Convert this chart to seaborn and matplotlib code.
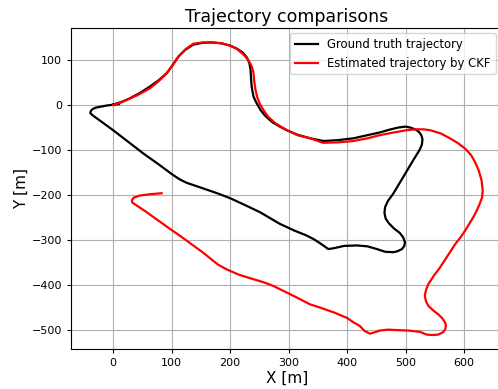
import matplotlib
matplotlib.use("Agg")
import matplotlib.pyplot as plt
import seaborn as sns

# Ground truth trajectory points (x [m], y [m])
gt_points = [
    (0, 1), (15, 7), (29, 15), (45, 26), (63, 41), (78, 55), (92, 71), (102, 89), (112, 108), (124, 123),
    (137, 134), (153, 138), (169, 139), (185, 137), (200, 132), (212, 125), (222, 116), (229, 105), (233, 93),
    (235, 78), (236, 56), (237, 40), (240, 19), (245, 5), (252, -11), (260, -24), (272, -38), (285, -48),
    (297, -56), (315, -66), (337, -74), (360, -80), (385, -78), (411, -74), (435, -67), (456, -61), (472, -55),
    (488, -50), (500, -48), (508, -50), (518, -55), (523, -60), (527, -67), (529, -76), (528, -88), (524, -100),
    (513, -123), (497, -158), (479, -197), (470, -213), (465, -227), (464, -240), (466, -252), (471, -262),
    (480, -274), (490, -284), (496, -294), (499, -305), (498, -313), (494, -320), (486, -325), (479, -327),
    (465, -326), (451, -320), (435, -314), (417, -312), (395, -313), (378, -318), (368, -320), (355, -308),
    (343, -298), (331, -290), (310, -279), (285, -264), (268, -251), (251, -238), (225, -222), (200, -207),
    (180, -197), (160, -188), (142, -180), (126, -173), (115, -166), (103, -156), (78, -132), (52, -108),
    (26, -82), (0, -56), (-20, -37), (-35, -23), (-39, -18), (-38, -13), (-35, -9), (-30, -6), (-22, -4),
    (-10, -1), (10, 2),
]

# Estimated trajectory by CKF points (x [m], y [m])
ckf_points = [
    (0, 0), (12, 5), (23, 11), (42, 22), (63, 37), (78, 53), (92, 71), (102, 89), (112, 108), (124, 124),
    (137, 136), (153, 139), (169, 139), (185, 137), (200, 132), (212, 124), (223, 112), (231, 100), (237, 86),
    (240, 72), (241, 56), (243, 37), (246, 19), (251, 2), (257, -11), (265, -26), (277, -40), (297, -56),
    (315, -67), (337, -74), (359, -84), (385, -83), (411, -80), (435, -74), (456, -67), (480, -61), (502, -56),
    (517, -54), (530, -54), (542, -56), (560, -63), (576, -74), (590, -85), (602, -97), (612, -111), (619, -127),
    (625, -145), (630, -167), (632, -190), (631, -205), (627, -219), (622, -234), (616, -249), (609, -264),
    (602, -279), (594, -294), (585, -309), (572, -335), (559, -361), (548, -380), (539, -398), (535, -411),
    (533, -424), (535, -436), (539, -446), (547, -456), (556, -465), (563, -474), (568, -484), (569, -491),
    (568, -498), (564, -505), (556, -510), (546, -511), (536, -510), (525, -504), (505, -501), (485, -500),
    (470, -499), (456, -501), (447, -505), (439, -508), (430, -502), (422, -491), (410, -482), (400, -473),
    (378, -461), (354, -450), (337, -443), (310, -425), (285, -409), (274, -402), (258, -394), (240, -387),
    (215, -377), (194, -365), (180, -355), (171, -346), (155, -329), (137, -312), (117, -293), (97, -275),
    (83, -262), (69, -249), (55, -236), (40, -223), (33, -217), (32, -212), (35, -206), (46, -201), (65, -198),
    (83, -196),
]

gt_x = [p[0] for p in gt_points]
gt_y = [p[1] for p in gt_points]
ckf_x = [p[0] for p in ckf_points]
ckf_y = [p[1] for p in ckf_points]

fig = plt.figure(figsize=(4.98, 3.89), dpi=100)
ax = fig.add_axes([71 / 498, 1 - 349 / 389, (502.6 - 71) / 498, (349 - 28) / 389])

sns.lineplot(x=gt_x, y=gt_y, sort=False, estimator=None, color="black", lw=1.6,
             label="Ground truth trajectory", ax=ax)
sns.lineplot(x=ckf_x, y=ckf_y, sort=False, estimator=None, color="red", lw=1.6,
             label="Estimated trajectory by CKF", ax=ax)

ax.set_xlim(-72, 666)
ax.set_ylim(-542, 171)
ax.set_xticks([0, 100, 200, 300, 400, 500, 600])
ax.set_yticks([100, 0, -100, -200, -300, -400, -500])
ax.grid(True, color="#b0b0b0", lw=0.8)
ax.set_axisbelow(True)
ax.tick_params(labelsize=8, length=3)
for s in ax.spines.values():
    s.set_linewidth(0.8)
ax.set_xlabel("X [m]", fontsize=11, labelpad=2)
ax.set_ylabel("Y [m]", fontsize=11, labelpad=2)
ax.set_title("Trajectory comparisons", fontsize=12.5, pad=4)
ax.legend(loc="upper right", fontsize=8.4, bbox_to_anchor=(0.992, 0.995), borderaxespad=0.3)

fig.savefig("out.png", dpi=100)
